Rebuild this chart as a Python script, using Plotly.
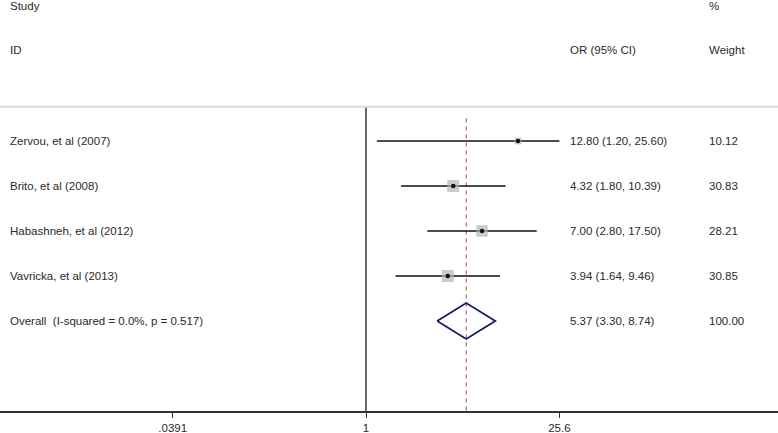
import plotly.graph_objects as go

studies = ["Zervou, et al (2007)", "Brito, et al (2008)", "Habashneh, et al (2012)", "Vavricka, et al (2013)"]
or_vals = [12.80, 4.32, 7.00, 3.94]
ci_low = [1.20, 1.80, 2.80, 1.64]
ci_high = [25.60, 10.39, 17.50, 9.46]
weights = [10.12, 30.83, 28.21, 30.85]
or_text = ["12.80 (1.20, 25.60)", "4.32 (1.80, 10.39)", "7.00 (2.80, 17.50)", "3.94 (1.64, 9.46)"]
weight_text = ["10.12", "30.83", "28.21", "30.85"]
overall_label = "Overall  (I-squared = 0.0%, p = 0.517)"
overall_or = 5.37
overall_low = 3.30
overall_high = 8.74
overall_text = "5.37 (3.30, 8.74)"
overall_weight = "100.00"
tick_vals = [0.0391, 1, 25.6]
tick_text = [".0391", "1", "25.6"]

rows = list(range(1, len(studies) + 1))
overall_row = len(studies) + 1
y_top, y_bottom = -2.1333, 7.0

TXT = "#2a2a2a"
FONT = "Liberation Sans, Arial, sans-serif"
FS = 11.5

fig = go.Figure()

# null line at 1
fig.add_trace(go.Scatter(x=[1, 1], y=[0.24, y_bottom], mode="lines",
                         line=dict(color="#333333", width=1.5), hoverinfo="skip", showlegend=False))
# overall dashed line
fig.add_trace(go.Scatter(x=[overall_or, overall_or], y=[0.5, y_bottom], mode="lines",
                         line=dict(color="#a0405a", width=1, dash="4px,4px"), hoverinfo="skip", showlegend=False))

# CI lines
cx, cy = [], []
for lo, hi, r in zip(ci_low, ci_high, rows):
    cx += [lo, hi, None]
    cy += [r, r, None]
fig.add_trace(go.Scatter(x=cx, y=cy, mode="lines", line=dict(color="#111111", width=1.6),
                         hoverinfo="skip", showlegend=False))

# weight squares (area proportional to weight)
max_w = max(weights)
sizes = [12 * (w / max_w) ** 0.5 for w in weights]
fig.add_trace(go.Scatter(x=or_vals, y=rows, mode="markers",
                         marker=dict(symbol="square", size=sizes, color="#b5b5b5", line=dict(width=0)),
                         hoverinfo="skip", showlegend=False))
# point estimates
fig.add_trace(go.Scatter(x=or_vals, y=rows, mode="markers",
                         marker=dict(symbol="circle", size=4.5, color="#111111"),
                         hoverinfo="skip", showlegend=False))

# overall diamond
h = 0.4
fig.add_trace(go.Scatter(x=[overall_low, overall_or, overall_high, overall_or, overall_low],
                         y=[overall_row, overall_row - h, overall_row, overall_row + h, overall_row],
                         mode="lines", line=dict(color="#1a1a6e", width=1.8),
                         hoverinfo="skip", showlegend=False))

ann = []
def add_text(x, y, t):
    ann.append(dict(x=x, y=y, xref="paper", yref="y", text=t, showarrow=False,
                    xanchor="left", yanchor="middle", font=dict(size=FS, color=TXT, family=FONT)))

x_study, x_or, x_w = 8 / 778, 568 / 778, 707 / 778
add_text(x_study, -2.0, "Study")
add_text(x_study, -1.02, "ID")
add_text(x_or, -1.02, "OR (95% CI)")
add_text(x_w, -2.0, "%")
add_text(x_w, -1.02, "Weight")
for s, o, w, r in zip(studies, or_text, weight_text, rows):
    add_text(x_study, r, s)
    add_text(x_or, r, o)
    add_text(x_w, r, w)
add_text(x_study, overall_row, overall_label)
add_text(x_or, overall_row, overall_text)
add_text(x_w, overall_row, overall_weight)

fig.update_layout(
    width=778, height=433,
    margin=dict(l=0, r=0, t=0, b=22),
    paper_bgcolor="white", plot_bgcolor="white",
    annotations=ann,
    shapes=[dict(type="line", xref="paper", yref="y", x0=0, x1=1, y0=0.24, y1=0.24,
                 line=dict(color="#dcdcdc", width=2))],
    xaxis=dict(type="log", range=[-2.6657, 3.0007], showgrid=False, zeroline=False,
               showline=True, linecolor="#333333", linewidth=2,
               ticks="outside", ticklen=5, tickcolor="#333333", tickwidth=1,
               tickvals=tick_vals, ticktext=tick_text,
               tickfont=dict(size=FS, color=TXT, family=FONT), fixedrange=True),
    yaxis=dict(range=[y_bottom, y_top], showgrid=False, zeroline=False, showline=False,
               showticklabels=False, ticks="", fixedrange=True),
)

fig.write_html("out.html", config={"displayModeBar": False},
               post_script="document.body.style.margin='0';document.body.style.overflow='hidden';")
